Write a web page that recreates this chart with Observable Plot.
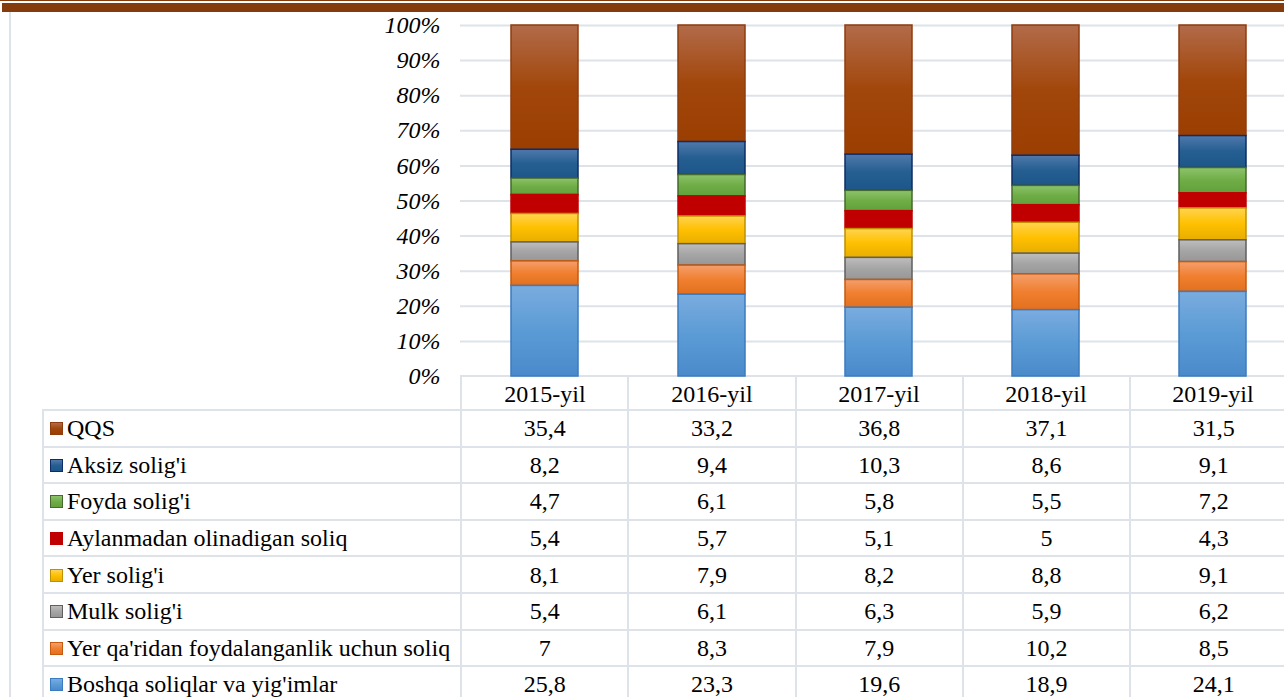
<!DOCTYPE html>
<html>
<head>
<meta charset="utf-8">
<script src="https://cdn.jsdelivr.net/npm/d3@7"></script>
<script src="https://cdn.jsdelivr.net/npm/@observablehq/plot@0.6"></script>
<style>
html, body { margin: 0; padding: 0; background: #fff; }
#wrap { position: relative; width: 1284px; height: 697px; overflow: hidden; font-family: "Liberation Serif", "Times New Roman", serif; }
.topline { position: absolute; left: 0; top: 0; width: 1284px; height: 1px; background: #843C0C; }
.topband { position: absolute; left: 2px; top: 3px; width: 1282px; height: 9px; background: #843C0C; }
.leftline { position: absolute; left: 9px; top: 12px; width: 2px; height: 690px; background: #DEE3EA; }
#tbl { position: absolute; left: 42px; top: 375px; border-collapse: collapse; table-layout: fixed; width: 1254px; font-size: 24px; color: #000; }
#tbl td { border: 2px solid #DEE3EA; padding: 0; white-space: nowrap; overflow: hidden; line-height: 1; }
#tbl tr.head td { height: 32px; }
#tbl tr.row td { height: 34.6px; }
#tbl td.val { text-align: center; }
#tbl td.lab { padding-left: 6px; }
#tbl td.blank { border-top: none; border-left: none; }
.key { display: inline-block; width: 11px; height: 11px; margin-right: 4px; vertical-align: 1px; }
#chart { position: absolute; left: 0; top: 0; }
#chart svg [aria-label="y-axis tick label"] text { font-style: italic; }
</style>
</head>
<body>
<div id="wrap">
  <div class="topline"></div>
  <div class="topband"></div>
  <div class="leftline"></div>
  <table id="tbl"></table>
  <div id="chart"></div>
</div>
<script>
// ---- data ----
const years = ["2015-yil", "2016-yil", "2017-yil", "2018-yil", "2019-yil"];
const series = [
  "QQS",
  "Aksiz solig'i",
  "Foyda solig'i",
  "Aylanmadan olinadigan soliq",
  "Yer solig'i",
  "Mulk solig'i",
  "Yer qa'ridan foydalanganlik uchun soliq",
  "Boshqa soliqlar va yig'imlar"
];
const qqs        = [35.4, 33.2, 36.8, 37.1, 31.5];
const aksiz      = [8.2, 9.4, 10.3, 8.6, 9.1];
const foyda      = [4.7, 6.1, 5.8, 5.5, 7.2];
const aylanma    = [5.4, 5.7, 5.1, 5, 4.3];
const yerSoligi  = [8.1, 7.9, 8.2, 8.8, 9.1];
const mulk       = [5.4, 6.1, 6.3, 5.9, 6.2];
const yerQaridan = [7, 8.3, 7.9, 10.2, 8.5];
const boshqa     = [25.8, 23.3, 19.6, 18.9, 24.1];
const yTicks = [0, 10, 20, 30, 40, 50, 60, 70, 80, 90, 100];

// ---- styles ----
const seriesValues = [qqs, aksiz, foyda, aylanma, yerSoligi, mulk, yerQaridan, boshqa];
const gradStops = [
  ["#B26B4A", "#A2470B", "#9A3E02"],
  ["#5079AC", "#255E91", "#1D5789"],
  ["#8CC46B", "#70AD47", "#61A03B"],
  ["#C00000", "#C00000", "#C00000"],
  ["#FFD450", "#FFC000", "#E8AE00"],
  ["#BEBEBE", "#A5A5A5", "#979797"],
  ["#F49F6C", "#F07F2F", "#E2701F"],
  ["#7AACDF", "#5B9BD5", "#4A8ACB"]
];
const borders = ["#8F3D0F", "#0E2C66", "#46692E", "#C00000", "#BF9000", "#5F5F5F", "#C55A11", "#3B7BBF"];

// stacked rows (bottom series = last in list)
const stacked = [];
years.forEach((yr, j) => {
  let acc = 0;
  for (let i = series.length - 1; i >= 0; i--) {
    const v = seriesValues[i][j];
    stacked.push({year: yr, series: series[i], y0: acc, y1: acc + v});
    acc += v;
  }
});

const plot = Plot.plot({
  width: 1284,
  height: 410,
  marginTop: 25,
  marginBottom: 34,
  marginLeft: 460,
  marginRight: -12,
  style: {background: "transparent", fontFamily: "'Liberation Serif', 'Times New Roman', serif", fontSize: "24px", color: "#000", overflow: "visible"},
  x: {domain: years, padding: 0, label: null},
  y: {domain: [0, 100], label: null},
  marks: [
    Plot.gridY(yTicks.filter(t => t > 0), {stroke: "#DEE3EA", strokeOpacity: 1, strokeWidth: 2}),
    ...series.map((s, i) => Plot.barY(stacked.filter(d => d.series === s), {
      x: "year", y1: "y0", y2: "y1",
      fill: `url(#grad${i})`, stroke: borders[i], strokeWidth: 1.5,
      insetLeft: 50, insetRight: 50
    })),
    Plot.axisY({ticks: yTicks, tickFormat: d => d + "%", tickSize: 0, tickPadding: 20, label: null}),
    Plot.axisX({tickSize: 0, tickPadding: 8, label: null})
  ]
});

const svg = d3.select(plot);
const defs = svg.insert("defs", ":first-child");
gradStops.forEach((st, i) => {
  const g = defs.append("linearGradient").attr("id", "grad" + i).attr("x1", 0).attr("y1", 0).attr("x2", 0).attr("y2", 1);
  g.append("stop").attr("offset", "0%").attr("stop-color", st[0]);
  g.append("stop").attr("offset", "50%").attr("stop-color", st[1]);
  g.append("stop").attr("offset", "100%").attr("stop-color", st[2]);
});
document.getElementById("chart").appendChild(plot);

// ---- data table ----
const fmt = v => String(v).replace(".", ",");
const tbl = d3.select("#tbl");
const cg = tbl.append("colgroup");
cg.append("col").style("width", "418px");
years.forEach(() => cg.append("col").style("width", "167.25px"));
const head = tbl.append("tr").attr("class", "head");
head.append("td").attr("class", "blank");
years.forEach(() => head.append("td"));
series.forEach((s, i) => {
  const tr = tbl.append("tr").attr("class", "row");
  const lab = tr.append("td").attr("class", "lab");
  lab.append("span").attr("class", "key")
    .style("background", `linear-gradient(${gradStops[i][0]}, ${gradStops[i][1]}, ${gradStops[i][2]})`)
    .style("border", `1px solid ${borders[i]}`);
  lab.append("span").text(s);
  seriesValues[i].forEach(v => tr.append("td").attr("class", "val").text(fmt(v)));
});
</script>
</body>
</html>
